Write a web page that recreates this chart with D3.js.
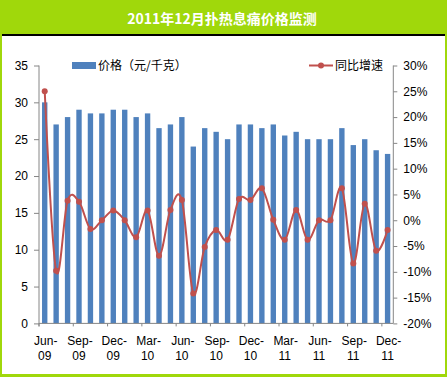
<!DOCTYPE html>
<html>
<head>
<meta charset="utf-8">
<script src="https://cdn.jsdelivr.net/npm/d3@7"></script>
<style>
  body { margin: 0; background: #fff; }
  svg { display: block; font-family: SimSun, "Noto Sans CJK SC", sans-serif; }
  .num { font-family: "Liberation Sans", Arial, sans-serif; }
</style>
</head>
<body>
<div id="chart"></div>
<script>
const title = "2011年12月扑热息痛价格监测";
const months = ["Jun-09","Jul-09","Aug-09","Sep-09","Oct-09","Nov-09","Dec-09","Jan-10","Feb-10","Mar-10",
  "Apr-10","May-10","Jun-10","Jul-10","Aug-10","Sep-10","Oct-10","Nov-10","Dec-10","Jan-11",
  "Feb-11","Mar-11","Apr-11","May-11","Jun-11","Jul-11","Aug-11","Sep-11","Oct-11","Nov-11","Dec-11"];
const price = [30,27,28,29,28.5,28.5,29,29,28,28.5,26.5,27,28,24,26.5,26,25,27,27,26.5,27,25.5,26,25,25,25,26.5,24.2,25,23.5,23];
const growth = [25,-9.8,3.8,3.6,-1.7,0,1.9,0,-3.3,1.9,-6.9,2,3.9,-14.2,-5.2,-1.9,-3.8,4.1,3.9,6.2,0.1,-3.8,2,-3.8,0,0,6.2,-8.4,3.2,-5.9,-1.9];
const leftTicks = [0,5,10,15,20,25,30,35];
const rightTicks = [-20,-15,-10,-5,0,5,10,15,20,25,30];
const seriesNames = ["价格（元/千克）", "同比增速"];

function drawChart() {
  const W = 447, H = 377;
  const green = "#a0d80b", blue = "#4f81bd", red = "#c0504d", axisGray = "#868686";

  const svg = d3.select("#chart").append("svg")
    .attr("width", W).attr("height", H);

  // frame
  svg.append("rect").attr("width", W).attr("height", H).attr("fill", green);
  svg.append("rect").attr("x", 2).attr("y", 34).attr("width", 443).attr("height", 2).attr("fill", "#000");
  svg.append("rect").attr("x", 2).attr("y", 36).attr("width", 443).attr("height", 338).attr("fill", "#fff");

  svg.append("text")
    .attr("x", 222).attr("y", 24)
    .attr("text-anchor", "middle")
    .attr("fill", "#fff")
    .style("font-size", "14px")
    .style("font-weight", "bold")
    .text(title);

  const pLeft = 39, pRight = 393.3, pTop = 65.5, pBottom = 323.4;

  const x = d3.scaleBand()
    .domain(months)
    .range([pLeft, pRight])
    .paddingInner(0.53)
    .paddingOuter(0.265);
  const step = x.step();

  const y = d3.scaleLinear().domain([0, 35]).range([pBottom, pTop]);
  const y2 = d3.scaleLinear().domain([-20, 30]).range([pBottom, pTop]);

  // bars
  svg.append("g").selectAll("rect")
    .data(price)
    .join("rect")
    .attr("x", (d, i) => x(months[i]))
    .attr("y", d => y(d))
    .attr("width", x.bandwidth())
    .attr("height", d => y(0) - y(d))
    .attr("fill", blue);

  // left axis
  const yAxis = d3.axisLeft(y).tickValues(leftTicks).tickSize(5).tickPadding(6);
  const gy = svg.append("g").attr("transform", `translate(${pLeft},0)`).call(yAxis);
  gy.select(".domain").attr("stroke", axisGray).attr("d", `M0,${pTop}V${pBottom + 3}`);
  gy.selectAll(".tick line").attr("stroke", axisGray);
  gy.selectAll("text").attr("class", "num").style("font-size", "12px").attr("fill", "#000");

  // right axis
  const y2Axis = d3.axisRight(y2).tickValues(rightTicks).tickSize(4).tickPadding(6)
    .tickFormat(d => (d < 0 ? "-" + Math.abs(d) : d) + "%");
  const gy2 = svg.append("g").attr("transform", `translate(${pRight},0)`).call(y2Axis);
  gy2.select(".domain").attr("stroke", axisGray).attr("d", `M0,${pTop}V${pBottom}`);
  gy2.selectAll(".tick line").attr("stroke", axisGray);
  gy2.selectAll("text").attr("class", "num").style("font-size", "12px").attr("fill", "#000");

  // bottom axis
  const gx = svg.append("g");
  gx.append("line")
    .attr("x1", pLeft).attr("x2", pRight)
    .attr("y1", pBottom).attr("y2", pBottom)
    .attr("stroke", axisGray);
  const labelled = months.filter((m, i) => i % 3 === 0);
  gx.selectAll("line.tk")
    .data(labelled)
    .join("line")
    .attr("class", "tk")
    .attr("x1", d => x(d) - step * 0.265).attr("x2", d => x(d) - step * 0.265)
    .attr("y1", pBottom).attr("y2", pBottom + 3)
    .attr("stroke", axisGray);
  gx.selectAll("text.mon")
    .data(labelled)
    .join("text")
    .attr("class", "num mon")
    .attr("text-anchor", "middle")
    .style("font-size", "12px")
    .attr("x", d => x(d) + x.bandwidth() / 2 + 1)
    .attr("y", pBottom + 22)
    .text(d => d.split("-")[0] + "-");
  gx.selectAll("text.yr")
    .data(labelled)
    .join("text")
    .attr("class", "num yr")
    .attr("text-anchor", "middle")
    .style("font-size", "12px")
    .attr("x", d => x(d) + x.bandwidth() / 2)
    .attr("y", pBottom + 37)
    .text(d => d.split("-")[1]);

  // growth line
  const line = d3.line()
    .x((d, i) => x(months[i]) + x.bandwidth() / 2)
    .y(d => y2(d))
    .curve(d3.curveCardinal.tension(0));
  svg.append("path")
    .datum(growth)
    .attr("d", line)
    .attr("fill", "none")
    .attr("stroke", red)
    .attr("stroke-width", 2);
  svg.append("g").selectAll("circle")
    .data(growth)
    .join("circle")
    .attr("cx", (d, i) => x(months[i]) + x.bandwidth() / 2)
    .attr("cy", d => y2(d))
    .attr("r", 3)
    .attr("fill", red);

  // legend
  const lg = svg.append("g");
  lg.append("rect").attr("x", 72).attr("y", 62).attr("width", 24).attr("height", 7).attr("fill", blue);
  lg.append("text").attr("x", 98).attr("y", 70).style("font-size", "12px").text(seriesNames[0]);
  lg.append("line").attr("x1", 309).attr("x2", 333).attr("y1", 65.5).attr("y2", 65.5)
    .attr("stroke", red).attr("stroke-width", 2);
  lg.append("circle").attr("cx", 321).attr("cy", 65.5).attr("r", 3).attr("fill", red);
  lg.append("text").attr("x", 335).attr("y", 70).style("font-size", "12px").text(seriesNames[1]);
}

drawChart();
</script>
</body>
</html>
